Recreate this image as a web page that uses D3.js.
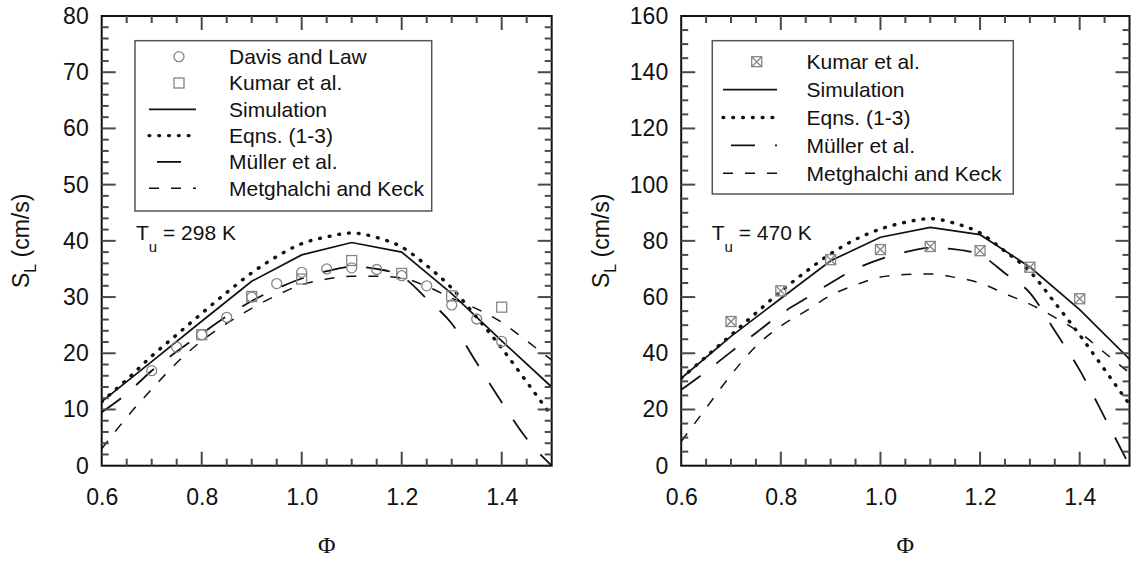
<!DOCTYPE html>
<html>
<head>
<meta charset="utf-8">
<script src="https://cdn.jsdelivr.net/npm/d3@7"></script>
<style>
  body { margin: 0; background: #fff; }
  text { font-family: "Liberation Sans", Arial, sans-serif; fill: #111; }
</style>
</head>
<body>
<div id="chart"></div>
<script>
// equivalence ratio grids
const phiFine = [0.6, 0.65, 0.7, 0.75, 0.8, 0.85, 0.9, 0.95, 1.0, 1.05, 1.1, 1.15, 1.2, 1.25, 1.3, 1.35, 1.4, 1.45, 1.5];
const phiCoarse = [0.6, 0.7, 0.8, 0.9, 1.0, 1.1, 1.2, 1.3, 1.4, 1.5];

// Tu = 298 K
const simulation298 = [11.4, 18.5, 25.7, 32.8, 37.5, 39.7, 38.0, 30.6, 22.2, 14.0];
const eqns298 = [11.4, 15.3, 19.5, 23.3, 27.1, 30.8, 34.3, 37.2, 39.5, 40.7, 41.4, 40.6, 38.9, 35.6, 31.6, 26.4, 20.9, 14.9, 8.8];
const muller298 = [9.5, 12.8, 16.9, 20.3, 23.5, 26.6, 29.3, 31.5, 33.3, 34.6, 35.4, 35.0, 33.7, 29.7, 25.3, 18.3, 11.3, 4.8, 0.0];
const metghalchi298 = [3.0, 8.6, 13.6, 18.3, 22.2, 25.3, 28.0, 30.3, 32.2, 33.2, 33.7, 33.7, 33.4, 31.9, 29.8, 27.9, 25.5, 22.2, 18.8];
const davisPhi298 = [0.7, 0.75, 0.8, 0.85, 0.9, 0.95, 1.0, 1.05, 1.1, 1.15, 1.2, 1.25, 1.3, 1.35, 1.4];
const davis298 = [16.9, 21.1, 23.3, 26.4, 30.0, 32.4, 34.4, 35.0, 35.2, 34.9, 33.8, 32.0, 28.6, 26.1, 22.1];
const kumarPhi298 = [0.8, 0.9, 1.0, 1.1, 1.2, 1.3, 1.4];
const kumar298 = [23.3, 30.1, 33.2, 36.5, 34.2, 30.2, 28.2];

// Tu = 470 K
const simulation470 = [31.1, 46.0, 59.5, 72.9, 81.3, 84.8, 82.2, 70.7, 55.5, 37.9];
const eqns470 = [31.1, 38.8, 46.5, 54.3, 62.0, 69.0, 75.4, 80.5, 84.2, 86.6, 87.9, 86.2, 82.8, 76.3, 69.1, 58.0, 46.5, 34.2, 21.8];
const muller470 = [27.0, 33.5, 40.5, 47.2, 54.0, 59.5, 65.0, 70.0, 73.5, 76.0, 77.5, 77.0, 75.0, 68.5, 61.5, 48.0, 34.0, 17.2, 0.0];
const metghalchi470 = [8.6, 20.5, 32.3, 42.5, 49.7, 55.0, 60.6, 64.3, 67.1, 68.0, 68.2, 67.0, 65.0, 61.2, 57.5, 52.8, 47.4, 40.2, 33.0];
const kumarPhi470 = [0.7, 0.8, 0.9, 1.0, 1.1, 1.2, 1.3, 1.4];
const kumar470 = [51.3, 62.2, 73.3, 76.9, 78.0, 76.5, 70.6, 59.4];

const xTickLabels = [0.6, 0.8, 1.0, 1.2, 1.4];
const yTicks298 = [0, 10, 20, 30, 40, 50, 60, 70, 80];
const yTicks470 = [0, 20, 40, 60, 80, 100, 120, 140, 160];
const legend298 = ["Davis and Law", "Kumar et al.", "Simulation", "Eqns. (1-3)", "Müller et al.", "Metghalchi and Keck"];
const legend470 = ["Kumar et al.", "Simulation", "Eqns. (1-3)", "Müller et al.", "Metghalchi and Keck"];

const pts = (xs, ys) => xs.map((v, i) => [v, ys[i]]);

const lineStyles = {
  sim: { width: 1.7, dash: null, cap: "butt" },
  eqn: { width: 3.4, dash: "0.8 9", cap: "round" },
  mul: { width: 1.8, dash: "24 20", cap: "butt" },
  met: { width: 1.5, dash: "10 12", cap: "butt" }
};

const plotTop = 16, plotBottom = 465.7;

const svg = d3.select("#chart").append("svg")
    .attr("width", 1131)
    .attr("height", 561);

const panels = [
  {
    id: "p298", left: 101.7, right: 551.7, yMax: 80, yTicks: yTicks298, yMinorStep: 2,
    temp: "298 K", tx: 136, titleX: 28.5,
    lines: [
      { key: "sim", data: pts(phiCoarse, simulation298), curve: d3.curveLinear },
      { key: "eqn", data: pts(phiFine, eqns298), curve: d3.curveMonotoneX },
      { key: "mul", data: pts(phiFine, muller298), curve: d3.curveMonotoneX },
      { key: "met", data: pts(phiFine, metghalchi298), curve: d3.curveMonotoneX }
    ],
    markers: [
      { kind: "circle", data: pts(davisPhi298, davis298) },
      { kind: "square", data: pts(kumarPhi298, kumar298) }
    ],
    legend: { x0: 135, x1: 431.7, y0: 40.7, y1: 211, sym: 179, l0: 149, l1: 196, tx: 229, row0: 56.7, step: 26.3,
      labels: legend298, kinds: ["circle", "square", "sim", "eqn", "mul", "met"] }
  },
  {
    id: "p470", left: 681.2, right: 1129.5, yMax: 160, yTicks: yTicks470, yMinorStep: 5,
    temp: "470 K", tx: 711.7, titleX: 608.5,
    lines: [
      { key: "sim", data: pts(phiCoarse, simulation470), curve: d3.curveLinear },
      { key: "eqn", data: pts(phiFine, eqns470), curve: d3.curveMonotoneX },
      { key: "mul", data: pts(phiFine, muller470), curve: d3.curveMonotoneX },
      { key: "met", data: pts(phiFine, metghalchi470), curve: d3.curveMonotoneX }
    ],
    markers: [
      { kind: "xsquare", data: pts(kumarPhi470, kumar470) }
    ],
    legend: { x0: 712.3, x1: 1013.3, y0: 40.7, y1: 194, sym: 756.7, l0: 723, l1: 777, tx: 806.5, row0: 61.7, step: 27.9,
      labels: legend470, kinds: ["xsquare", "sim", "eqn", "mul", "met"] }
  }
];

function drawMarker(sel, kind, cx, cy) {
  const m = sel.append("g").attr("transform", "translate(" + cx + "," + cy + ")")
      .attr("fill", "none").attr("stroke", "#858585").attr("stroke-width", 1.3);
  if (kind === "circle") {
    m.append("circle").attr("r", 5);
  } else {
    m.append("rect").attr("x", -5).attr("y", -5).attr("width", 10).attr("height", 10);
    if (kind === "xsquare") m.append("path").attr("d", "M-5,-5L5,5M-5,5L5,-5");
  }
}

function styleLine(sel, key) {
  const s = lineStyles[key];
  sel.attr("fill", "none")
    .attr("stroke", "#111")
    .attr("stroke-width", s.width)
    .attr("stroke-linecap", s.cap)
    .attr("stroke-dasharray", s.dash);
}

panels.forEach(p => {
  const x = d3.scaleLinear().domain([0.6, 1.5]).range([p.left, p.right]);
  const y = d3.scaleLinear().domain([0, p.yMax]).range([plotBottom, plotTop]);
  const g = svg.append("g");

  const xMinor = d3.range(13, 30).map(i => +(i * 0.05).toFixed(2)).filter(v => !xTickLabels.includes(v));
  const yMinor = d3.range(1, p.yMax / p.yMinorStep).map(i => i * p.yMinorStep).filter(v => !p.yTicks.includes(v));

  // inward ticks on all four sides
  const xt = xTickLabels.filter(v => v > 0.6).map(v => ({ v, len: 14 }))
    .concat(xMinor.map(v => ({ v, len: 7 })));
  const ytk = p.yTicks.slice(1, -1).map(v => ({ v, len: 14 }))
    .concat(yMinor.map(v => ({ v, len: 7 })));
  const segs = [];
  xt.forEach(d => {
    segs.push([x(d.v), plotBottom, x(d.v), plotBottom - d.len]);
    segs.push([x(d.v), plotTop, x(d.v), plotTop + d.len]);
  });
  ytk.forEach(d => {
    segs.push([p.left, y(d.v), p.left + d.len, y(d.v)]);
    segs.push([p.right, y(d.v), p.right - d.len, y(d.v)]);
  });
  svg.append("g").selectAll("line").data(segs).join("line")
    .attr("x1", d => d[0]).attr("y1", d => d[1])
    .attr("x2", d => d[2]).attr("y2", d => d[3])
    .style("stroke", "#4a4a4a")
    .style("stroke-width", "2px");

  // tick labels
  g.append("g").attr("transform", "translate(0," + plotBottom + ")")
    .call(d3.axisBottom(x).tickValues(xTickLabels).tickSize(0).tickPadding(23).tickFormat(d3.format(".1f")))
    .call(a => a.select(".domain").remove())
    .attr("font-size", 23).attr("font-family", "Liberation Sans, Arial, sans-serif");
  g.append("g").attr("transform", "translate(" + p.left + ",0)")
    .call(d3.axisLeft(y).tickValues(p.yTicks).tickSize(0).tickPadding(13))
    .call(a => a.select(".domain").remove())
    .attr("font-size", 23).attr("font-family", "Liberation Sans, Arial, sans-serif");
  g.selectAll(".tick text").attr("fill", "#111");

  // curves
  const clipId = "clip-" + p.id;
  g.append("clipPath").attr("id", clipId).append("rect")
    .attr("x", p.left).attr("y", plotTop).attr("width", p.right - p.left).attr("height", plotBottom - plotTop);
  const plot = g.append("g").attr("clip-path", "url(#" + clipId + ")");
  p.lines.forEach(l => {
    const gen = d3.line().x(d => x(d[0])).y(d => y(d[1])).curve(l.curve);
    plot.append("path").datum(l.data).attr("d", gen).call(styleLine, l.key);
  });
  p.markers.forEach(m => {
    m.data.forEach(d => drawMarker(plot, m.kind, x(d[0]), y(d[1])));
  });

  // frame
  g.append("rect")
    .attr("x", p.left).attr("y", plotTop)
    .attr("width", p.right - p.left).attr("height", plotBottom - plotTop)
    .attr("fill", "none").attr("stroke", "#111").attr("stroke-width", 2);

  // legend
  const L = p.legend;
  g.append("rect")
    .attr("x", L.x0).attr("y", L.y0).attr("width", L.x1 - L.x0).attr("height", L.y1 - L.y0)
    .attr("fill", "#fff").attr("stroke", "#555").attr("stroke-width", 1.5);
  L.labels.forEach((label, i) => {
    const cy = L.row0 + i * L.step;
    const kind = L.kinds[i];
    if (lineStyles[kind]) {
      const ln = g.append("line")
        .attr("x1", L.l0).attr("x2", L.l1).attr("y1", cy).attr("y2", cy)
        .call(styleLine, kind);
      if (kind === "mul") ln.attr("stroke-dashoffset", 36);
    } else {
      drawMarker(g, kind, L.sym, cy);
    }
    g.append("text").attr("x", L.tx).attr("y", cy).attr("dy", "0.35em")
      .attr("font-size", 21).text(label);
  });

  // temperature label
  const t = g.append("text").attr("x", p.tx).attr("y", 240).attr("font-size", 21);
  t.append("tspan").text("T");
  t.append("tspan").attr("font-size", 15).attr("dy", 12).text("u");
  t.append("tspan").attr("dy", -12).text(" = " + p.temp);

  // axis titles
  g.append("text")
    .attr("x", (p.left + p.right) / 2).attr("y", 553)
    .attr("text-anchor", "middle")
    .attr("font-size", 24)
    .style("font-family", "'Liberation Serif', 'Times New Roman', serif")
    .text("Φ");
  const yt = g.append("text")
    .attr("transform", "translate(" + p.titleX + "," + (plotTop + plotBottom) / 2 + ") rotate(-90)")
    .attr("text-anchor", "middle")
    .attr("font-size", 23);
  yt.append("tspan").text("S");
  yt.append("tspan").attr("font-size", 16).attr("dy", 7).text("L");
  yt.append("tspan").attr("dy", -7).text(" (cm/s)");
});
</script>
</body>
</html>
